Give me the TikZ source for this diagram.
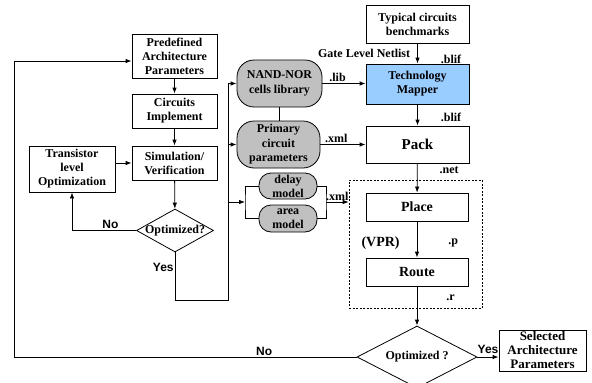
\documentclass[tikz,border=0pt]{standalone}
\usepackage{fontspec}
\setmainfont{Liberation Serif}
\newfontfamily\lblfont{Liberation Sans}
\usetikzlibrary{shapes.geometric,arrows.meta}
\definecolor{mapblue}{RGB}{153,204,255}
\definecolor{cellgray}{RGB}{192,192,192}

\tikzset{
  blk/.style={draw, rectangle, inner sep=1pt, align=center, font=\bfseries\fontsize{12}{14}\selectfont},
  lib/.style={draw, rectangle, rounded corners=17pt, fill=cellgray, inner sep=0pt, align=center, font=\bfseries\fontsize{12}{14.5}\selectfont},
  dec/.style={draw, diamond, inner sep=0pt},
  tag/.style={font=\bfseries\fontsize{12}{14}\selectfont, inner sep=1pt},
  yn/.style={font=\lblfont\bfseries\fontsize{12}{14}\selectfont, inner sep=1pt}
}

\begin{document}
\begin{tikzpicture}[x=1pt, y=-1pt, >={Latex[length=6pt,width=4.5pt]}, line width=0.8pt]
    \useasboundingbox (0,0) rectangle (592,383);

    % left column
    \node[blk, minimum width=85pt, minimum height=44pt] (pap) at (174.5,56) {Predefined\\Architecture\\Parameters};
    \node[blk, minimum width=85pt, minimum height=34pt] (ci) at (174.5,111) {Circuits\\Implement};
    \node[blk, minimum width=85pt, minimum height=34pt] (sv) at (174.5,163) {Simulation/\\Verification};
    \node[blk, minimum width=86pt, minimum height=46pt] (tlo) at (72,169) {Transistor\\level\\Optimization};
    \node[dec, minimum width=77pt, minimum height=43pt, label={[tag]center:Optimized?}] (o1) at (175,230.5) {};

    % cell libraries and models
    \node[lib, minimum width=85pt, minimum height=47pt] (ncl) at (279.5,83.5) {NAND-NOR\\cells library};
    \node[lib, minimum width=83pt, minimum height=47pt] (pcp) at (278.5,144.5) {Primary\\circuit\\parameters};
    \node[lib, rounded corners=12pt, font=\bfseries\fontsize{12}{14}\selectfont, minimum width=58pt, minimum height=26pt] (dm) at (288,186) {delay\\model};
    \node[lib, rounded corners=12pt, font=\bfseries\fontsize{12}{14}\selectfont, minimum width=58pt, minimum height=27pt] (am) at (288,218.5) {area\\model};

    % right column
    \node[blk, minimum width=103pt, minimum height=38pt] (tcb) at (417.5,24) {Typical circuits\\benchmarks};
    \node[blk, fill=mapblue, minimum width=103pt, minimum height=40pt] (tm) at (417.5,84) {Technology\\Mapper};
    \node[blk, font=\bfseries\fontsize{15}{17}\selectfont, minimum width=103pt, minimum height=37pt] (pk) at (417.5,144.5) {Pack};
    \node[draw, dash pattern=on 2pt off 1.5pt, line width=0.6pt, minimum width=133pt, minimum height=128pt] (vpr) at (415.5,244) {};
    \node[blk, font=\bfseries\fontsize{14}{16}\selectfont, minimum width=102pt, minimum height=28pt] (pl) at (417,207) {Place};
    \node[blk, font=\bfseries\fontsize{14}{16}\selectfont, minimum width=102pt, minimum height=28pt] (rt) at (417,272) {Route};
    \node[dec, minimum width=120pt, minimum height=62pt, label={[tag]center:Optimized ?}] (o2) at (417,357) {};
    \node[blk, font=\bfseries\fontsize{13}{14}\selectfont, minimum width=87pt, minimum height=41pt] (sap) at (542.5,350.5) {Selected\\Architecture\\Parameters};

    \coordinate (y1) at (175,300);
    \coordinate (y2) at (228,300);
    \coordinate (y3) at (228,83.5);
    \coordinate (b1) at (245,202);
    \coordinate (b2) at (326,202);
    \coordinate (n1) at (14,357);
    \coordinate (n2) at (14,61);

    % circuit loop
    \draw [->] (pap) to (ci);
    \draw [->] (ci) to (sv);
    \draw [->] (tlo.east |- sv) to (sv.west);
    \draw [->] (sv) to (o1);
    \draw [->] (o1.west) -| node[yn, above, pos=0.2] {No} (tlo.south);
    \draw (o1.south) to node[yn, left, pos=0.31] {Yes} (y1) -- (y2) -- (y3);
    \draw [->] (y3) to (ncl.west);
    \draw [->] (y2 |- pcp.west) to (pcp.west);
    \draw [->] (y2 |- b1) to (b1);
    \draw (dm.west) -| (b1) |- (am.west);
    \draw (dm.east) -| (b2) |- (am.east);
    \draw (ncl.south) to (ncl.south |- pcp.north);

    % tool flow
    \draw [->] (tcb) to node[tag, left, pos=0.48, xshift=-6pt] {Gate Level Netlist} node[tag, right, pos=0.8, xshift=22pt] {.blif} (tm);
    \draw [->] (ncl.east) to node[tag, above, pos=0.35] {.lib} (ncl.east -| tm.west);
    \draw [->] (tm) to node[tag, right, pos=0.6, xshift=22pt] {.blif} (pk);
    \draw [->] (pcp.east) to node[tag, above, pos=0.35] {.xml} (pcp.east -| pk.west);
    \draw [->] (b2) to node[tag, above] {.xml} (vpr.west |- b2);
    \draw [->] (pk) to node[tag, right, pos=0.23, xshift=21pt] {.net} (pl);
    \draw [->] (pl) to node[tag, font=\bfseries\fontsize{14}{16}\selectfont, left, pos=0.6, xshift=-16pt] {(VPR)} node[tag, right, pos=0.6, xshift=30pt] {.p} (rt);
    \draw [->] (rt) to node[tag, right, pos=0.3, xshift=28pt] {.r} (o2);
    \draw [->] (o2.east) to node[yn, above, yshift=2pt] {Yes} (o2.east -| sap.west);
    \draw [->] (o2.west) to node[yn, above, pos=0.27] {No} (n1) -- (n2) -- (n2 -| pap.west);

\end{tikzpicture}
\end{document}
